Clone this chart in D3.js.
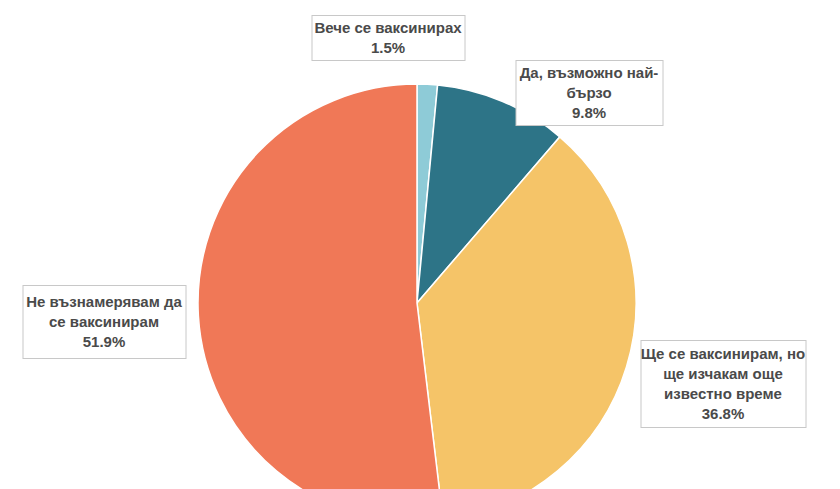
<!DOCTYPE html>
<html><head><meta charset="utf-8">
<script src="https://cdn.jsdelivr.net/npm/d3@7/dist/d3.min.js"></script>
<style>html,body{margin:0;padding:0;background:#fff;overflow:hidden}</style>
</head><body>
<svg id="c" width="840" height="489"></svg>
<script>
const categories = ["Вече се ваксинирах", "Да, възможно най-бързо", "Ще се ваксинирам, но ще изчакам още известно време", "Не възнамерявам да се ваксинирам"];
const values = [1.5, 9.8, 36.8, 51.9];
const labelLines = [
  ["Вече се ваксинирах"],
  ["Да, възможно най-", "бързо"],
  ["Ще се ваксинирам, но", "ще изчакам още", "известно време"],
  ["Не възнамерявам да", "се ваксинирам"]
];
const colors = ["#8ECBD7", "#2D7487", "#F5C468", "#F07857"];
// label box layout: [centerX, top, width, height]
const boxes = [[388, 15, 153, 45], [589, 60, 147, 65], [723, 340, 165, 87], [104, 285, 163, 73]];

const svg = d3.select("#c");
const cx = 417, cy = 303, r = 219;
const pie = d3.pie().sort(null).value(d => d)(values);
const arc = d3.arc().innerRadius(0).outerRadius(r);
const g = svg.append("g").attr("transform", `translate(${cx},${cy})`);
g.selectAll("path").data(pie).join("path")
  .attr("d", arc).attr("fill", (d, i) => colors[i])
  .attr("stroke", "#fff").attr("stroke-width", 1.5);

const fmt = v => v.toFixed(1) + "%";
boxes.forEach((b, i) => {
  const lg = svg.append("g");
  lg.append("rect").attr("x", b[0] - b[2] / 2 + 0.5).attr("y", b[1] + 0.5)
    .attr("width", b[2]).attr("height", b[3])
    .attr("fill", "#fff").attr("stroke", "#c8c8c8").attr("stroke-width", 1);
  const lines = labelLines[i].concat([fmt(values[i])]);
  const lh = 20;
  const startY = b[1] + b[3] / 2 - (lines.length - 1) * lh / 2;
  lines.forEach((t, j) => {
    lg.append("text").attr("x", b[0]).attr("y", startY + j * lh)
      .attr("dy", "0.36em").attr("text-anchor", "middle")
      .attr("font-family", "Liberation Sans, Arial, sans-serif")
      .attr("font-weight", "bold").attr("font-size", 15)
      .attr("fill", "#4a4a4a").text(t);
  });
});
</script>
</body></html>
